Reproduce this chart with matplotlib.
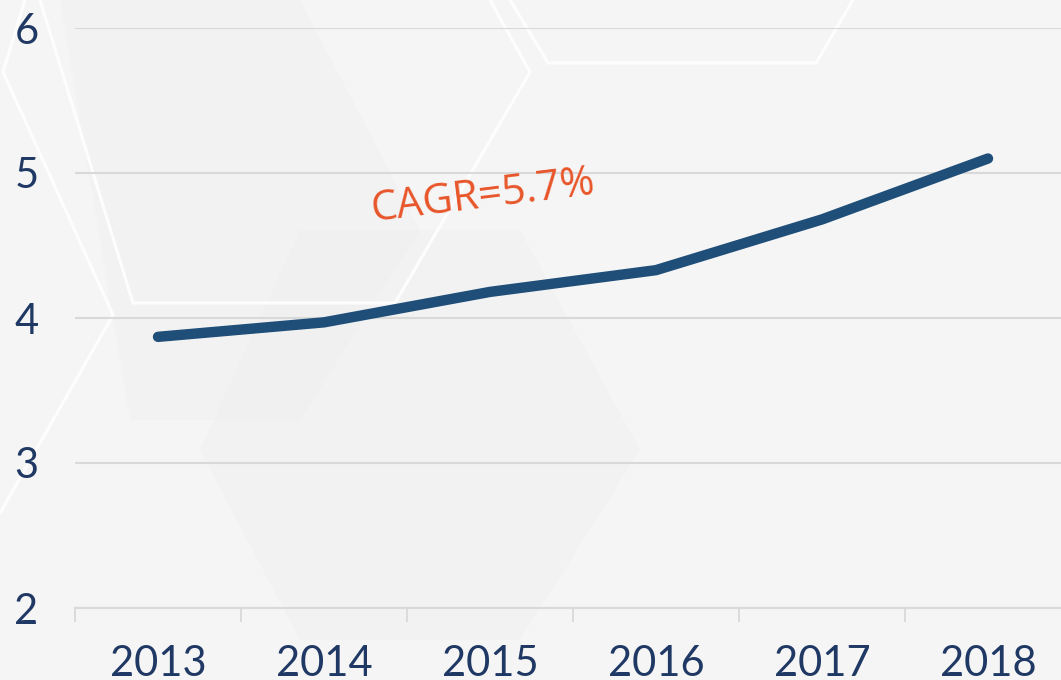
import matplotlib
matplotlib.use("Agg")
import matplotlib.pyplot as plt
from matplotlib.lines import Line2D
from matplotlib.patches import Polygon

years = ["2013", "2014", "2015", "2016", "2017", "2018"]
values = [3.87, 3.97, 4.18, 4.33, 4.68, 5.10]
y_ticks = [2, 3, 4, 5, 6]

W, H = 1061, 680
fig = plt.figure(figsize=(W / 100, H / 100), dpi=100)
fig.patch.set_facecolor("#f5f5f5")


def px(pts):
    return [(x / W, 1 - y / H) for x, y in pts]


# faint background shading and hexagon outlines
shades = [
    [(60, 0), (300, 0), (420, 230), (300, 420), (130, 420)],
    [(300, 230), (520, 230), (640, 450), (520, 640), (300, 640), (200, 450)],
]
for s in shades:
    fig.add_artist(Polygon(px(s), closed=True, transform=fig.transFigure,
                           facecolor="#ebebeb", edgecolor="none", alpha=0.25, zorder=0))

outlines = [
    [(25, 0), (3, 72), (113, 315), (0, 513)],
    [(40, 0), (133, 303), (395, 303), (530, 72), (490, 0)],
    [(510, 0), (548, 63), (816, 63), (853, 0)],
]
for o in outlines:
    xs, ys = zip(*px(o))
    fig.add_artist(Line2D(xs, ys, transform=fig.transFigure, color="white",
                          lw=2.2, alpha=0.9, zorder=0))

ax = fig.add_axes([75 / W, 1 - 608 / H, 996 / W, (608 - 28) / H])
ax.set_facecolor("none")

x = range(len(years))
ax.plot(x, values, color="#1f4e79", lw=7.5, solid_capstyle="round",
        solid_joinstyle="round", zorder=3)

ax.set_xlim(-0.5, len(years) - 0.5)
ax.set_ylim(2, 6)
ax.set_yticks(y_ticks)
ax.set_yticklabels([str(t) for t in y_ticks])
ax.yaxis.grid(True, color="#d9d9d9", lw=1.5)
ax.set_axisbelow(True)

ax.set_xticks(list(x))
ax.set_xticklabels(years)
ax.set_xticks([i - 0.5 for i in range(len(years) + 1)], minor=True)
ax.tick_params(axis="x", which="major", length=0, pad=27)
ax.tick_params(axis="x", which="minor", length=10, width=1.3, color="#d9d9d9")

for lab in ax.get_xticklabels() + ax.get_yticklabels():
    lab.set_fontfamily("Lato")
    lab.set_fontsize(30)
    lab.set_color("#1f3864")
for lab in ax.get_yticklabels():
    lab.set_horizontalalignment("center")
ax.tick_params(axis="y", length=0, pad=35)

for side in ["top", "right", "left"]:
    ax.spines[side].set_visible(False)
ax.spines["bottom"].set_color("#d9d9d9")
ax.spines["bottom"].set_linewidth(1.5)

ax.text(1.3, 4.6, "CAGR=5.7%", color="#e8562a", fontsize=30, family="Open Sans",
        rotation=7, ha="left", va="bottom", rotation_mode="anchor")

fig.savefig("out.png", dpi=100, facecolor=fig.get_facecolor())
